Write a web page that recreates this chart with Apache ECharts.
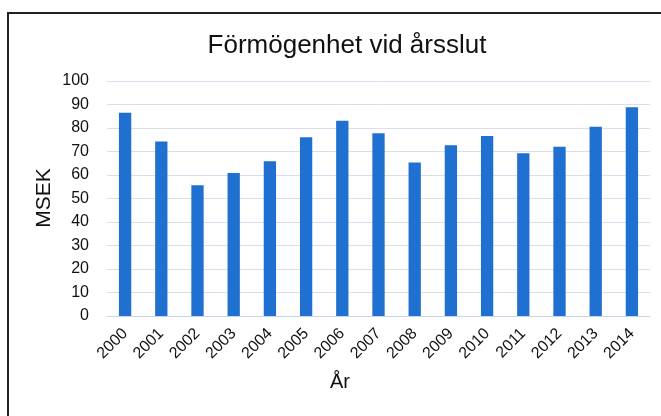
<!DOCTYPE html>
<html>
<head>
<meta charset="utf-8">
<script src="https://cdn.jsdelivr.net/npm/echarts@6/dist/echarts.min.js"></script>
<style>
  html, body { margin: 0; padding: 0; background: #fff; }
  #chart { width: 661px; height: 416px; }
</style>
</head>
<body>
<div id="chart"></div>
<script>
// year categories and yearly wealth (MSEK)
var years = ["2000", "2001", "2002", "2003", "2004", "2005", "2006", "2007",
  "2008", "2009", "2010", "2011", "2012", "2013", "2014"];
var wealth = [86.5, 74.3, 55.6, 60.9, 65.9, 76.1, 83.1, 77.8, 65.3, 72.7, 76.6, 69.3, 72.0, 80.5, 88.8];

var font = "Liberation Sans, Arial, sans-serif";

var dom = document.getElementById("chart");
var myChart = echarts.init(dom, null, { renderer: "canvas" });

var option = {
  animation: false,
  backgroundColor: "#ffffff",
  title: {
    text: "Förmögenhet vid årsslut",
    left: 342,
    textAlign: "center",
    top: 28,
    textStyle: { fontFamily: font, fontSize: 26, fontWeight: "normal", color: "#111" }
  },
  graphic: [
    {
      type: "rect",
      shape: { x: 8, y: 13, width: 700, height: 450 },
      style: { fill: "none", stroke: "#222", lineWidth: 2 }
    },
    {
      // x axis title, centred on the chart area like the original
      type: "text",
      left: 330,
      top: 372,
      style: { text: "År", fontFamily: font, fontSize: 20, fill: "#111" }
    },
    {
      // y axis title
      type: "text",
      x: 44,
      y: 198,
      rotation: Math.PI / 2,
      style: {
        text: "MSEK", fontFamily: font, fontSize: 21, fill: "#111",
        align: "center", verticalAlign: "middle"
      }
    }
  ],
  grid: { left: 107, right: 11, top: 81, bottom: 100 },
  xAxis: {
    type: "category",
    data: years,
    axisTick: { show: false },
    axisLine: { lineStyle: { color: "#c8d4ea", width: 1 } },
    axisLabel: {
      rotate: 45,
      margin: 15,
      fontFamily: font,
      fontSize: 16,
      color: "#111"
    }
  },
  yAxis: {
    type: "value",
    min: 0,
    max: 100,
    interval: 10,
    axisLine: { show: false },
    axisTick: { show: false },
    axisLabel: { fontFamily: font, fontSize: 16, color: "#111", margin: 18 },
    splitLine: { lineStyle: { color: "#dcdcec", width: 1 } }
  },
  series: [
    {
      type: "bar",
      data: wealth,
      barWidth: "34%",
      itemStyle: { color: "#1f70d0" }
    }
  ]
};

myChart.setOption(option);
</script>
</body>
</html>
